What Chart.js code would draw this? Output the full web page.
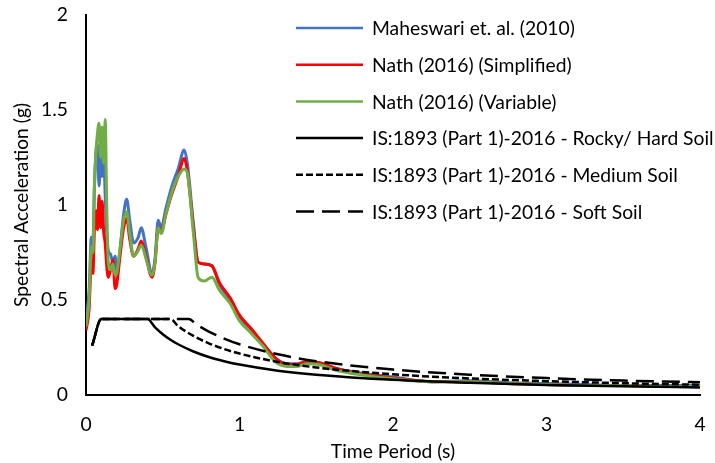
<!DOCTYPE html>
<html>
<head>
<meta charset="utf-8">
<script src="https://cdn.jsdelivr.net/npm/chart.js@4.4.0/dist/chart.umd.min.js"></script>
<style>
  html, body { margin: 0; padding: 0; background: #fff; }
  #wrap { width: 715px; height: 463px; }
</style>
</head>
<body>
<div id="wrap"><canvas id="chart" width="715" height="463"></canvas></div>
<script>
// Periode (s) untuk spektrum hasil analisis
const periods = [0.00, 0.02, 0.035, 0.045, 0.055, 0.065, 0.075, 0.085, 0.095, 0.105,
  0.115, 0.125, 0.135, 0.145, 0.16, 0.175, 0.19, 0.2, 0.22, 0.245,
  0.265, 0.285, 0.31, 0.34, 0.36, 0.39, 0.43, 0.45, 0.47, 0.49,
  0.52, 0.56, 0.6, 0.64, 0.66, 0.7, 0.73, 0.77, 0.82, 0.87,
  0.94, 1.0, 1.07, 1.15, 1.24, 1.31, 1.37, 1.44, 1.52, 1.63,
  1.8, 2.0, 2.25, 2.5, 2.75, 3.0, 3.25, 3.5, 3.75, 4.0];

const maheswari = [0.40, 0.55, 0.83, 0.80, 1.10, 1.28, 1.32, 1.10, 1.25, 1.15,
  1.30, 1.05, 0.85, 0.76, 0.74, 0.70, 0.73, 0.64, 0.75, 0.95,
  1.03, 0.92, 0.80, 0.83, 0.88, 0.78, 0.64, 0.72, 0.92, 0.88,
  0.98, 1.10, 1.19, 1.29, 1.22, 0.90, 0.70, 0.69, 0.68, 0.58,
  0.50, 0.41, 0.35, 0.27, 0.19, 0.165, 0.165, 0.175, 0.17, 0.14,
  0.115, 0.095, 0.07, 0.075, 0.065, 0.06, 0.055, 0.05, 0.05, 0.05];

const nathSimplified = [0.34, 0.45, 0.70, 0.64, 0.88, 0.97, 0.87, 1.05, 0.88, 1.02,
  0.86, 0.80, 0.68, 0.62, 0.66, 0.71, 0.56, 0.58, 0.72, 0.88,
  0.93, 0.82, 0.73, 0.77, 0.81, 0.73, 0.62, 0.70, 0.88, 0.86,
  0.95, 1.06, 1.15, 1.245, 1.18, 0.88, 0.70, 0.69, 0.68, 0.59,
  0.51, 0.42, 0.355, 0.275, 0.19, 0.16, 0.16, 0.175, 0.17, 0.14,
  0.11, 0.09, 0.07, 0.07, 0.06, 0.055, 0.05, 0.05, 0.045, 0.045];

const nathVariable = [0.36, 0.50, 0.78, 0.75, 1.10, 1.28, 1.38, 1.43, 1.25, 1.41,
  1.22, 1.45, 1.00, 0.70, 0.66, 0.69, 0.63, 0.64, 0.76, 0.92,
  0.965, 0.85, 0.73, 0.76, 0.79, 0.72, 0.63, 0.70, 0.88, 0.85,
  0.95, 1.07, 1.15, 1.19, 1.17, 0.85, 0.62, 0.60, 0.62, 0.55,
  0.48, 0.39, 0.33, 0.26, 0.17, 0.15, 0.15, 0.165, 0.16, 0.13,
  0.105, 0.085, 0.07, 0.07, 0.06, 0.055, 0.05, 0.05, 0.045, 0.045];

// Spektrum desain IS:1893
const rockyT = [0.04, 0.1, 0.4, 0.45, 0.5, 0.55, 0.6, 0.7, 0.8, 0.9, 1.0, 1.25, 1.5, 2.0, 2.5, 3.0, 3.5, 4.0];
const rockySa = [0.26, 0.40, 0.40, 0.356, 0.32, 0.291, 0.267, 0.229, 0.20, 0.178, 0.16, 0.128, 0.107, 0.08, 0.064, 0.053, 0.046, 0.04];

const mediumT = [0.04, 0.1, 0.55, 0.6, 0.7, 0.8, 0.9, 1.0, 1.25, 1.5, 2.0, 2.5, 3.0, 3.5, 4.0];
const mediumSa = [0.26, 0.40, 0.40, 0.363, 0.311, 0.272, 0.242, 0.218, 0.174, 0.145, 0.109, 0.087, 0.073, 0.062, 0.054];

const softT = [0.04, 0.1, 0.67, 0.72, 0.8, 0.9, 1.0, 1.25, 1.5, 2.0, 2.5, 3.0, 3.5, 4.0];
const softSa = [0.26, 0.40, 0.40, 0.371, 0.334, 0.297, 0.267, 0.214, 0.178, 0.134, 0.107, 0.089, 0.076, 0.067];

const xTicks = [0, 1, 2, 3, 4];
const yTicks = [0, 0.5, 1, 1.5, 2];

const FONT = "Lato, 'Open Sans', sans-serif";
const FONT_SIZE = 19.3;

function toPoints(xs, ys) {
  return xs.map((x, i) => ({ x: x, y: ys[i] }));
}

function series(label, xs, ys, color, dash, width, order) {
  return {
    label: label,
    data: toPoints(xs, ys),
    borderColor: color,
    backgroundColor: color,
    borderWidth: width,
    borderDash: dash,
    pointRadius: 0,
    fill: false,
    cubicInterpolationMode: "monotone",
    order: order,
  };
}

// Legenda digambar manual di pojok kanan atas area plot
const legendPlugin = {
  id: "cornerLegend",
  afterDraw(chart, args, opts) {
    const ctx = chart.ctx;
    ctx.save();
    ctx.font = opts.font;
    ctx.textBaseline = "middle";
    ctx.fillStyle = "#000";
    chart.data.datasets.forEach((ds, i) => {
      const y = opts.top + i * opts.gap;
      ctx.beginPath();
      ctx.strokeStyle = ds.borderColor;
      ctx.lineWidth = 2.5;
      ctx.setLineDash(ds.borderDash || []);
      ctx.moveTo(opts.left, y);
      ctx.lineTo(opts.left + opts.lineLen, y);
      ctx.stroke();
      ctx.setLineDash([]);
      ctx.fillText(ds.label, opts.left + opts.lineLen + 9, y + 1);
    });
    ctx.restore();
  },
};

const tickFont = { family: FONT, size: FONT_SIZE };

// Ukuran area sumbu dikunci supaya area plot tidak bergeser karena label
function fixPadding(s) {
  s.paddingTop = 0;
  s.paddingBottom = 0;
  s.paddingLeft = 0;
  s.paddingRight = 0;
}

const ctx = document.getElementById("chart").getContext("2d");
new Chart(ctx, {
  type: "line",
  data: {
    datasets: [
      series("Maheswari et. al. (2010)", periods, maheswari, "#4472C4", [], 3, 3),
      series("Nath (2016) (Simplified)", periods, nathSimplified, "#FF0000", [], 3, 2),
      series("Nath (2016) (Variable)", periods, nathVariable, "#70AD47", [], 3, 1),
      series("IS:1893 (Part 1)-2016 - Rocky/ Hard Soil", rockyT, rockySa, "#000000", [], 2.5, 0),
      series("IS:1893 (Part 1)-2016 - Medium Soil", mediumT, mediumSa, "#000000", [7, 3], 2.5, 0),
      series("IS:1893 (Part 1)-2016 - Soft Soil", softT, softSa, "#000000", [18, 8], 2.5, 0),
    ],
  },
  options: {
    responsive: false,
    animation: false,
    layout: { padding: { top: 15, right: 15, left: 0, bottom: 0 } },
    plugins: {
      legend: { display: false },
      tooltip: { enabled: false },
      cornerLegend: { left: 296, top: 28, gap: 36.7, lineLen: 67, font: FONT_SIZE + "px " + FONT },
    },
    scales: {
      x: {
        type: "linear",
        min: 0,
        max: 4,
        afterBuildTicks: (s) => { s.ticks = xTicks.map((v) => ({ value: v })); },
        afterFit: (s) => { s.height = 68; fixPadding(s); },
        grid: { display: false, drawTicks: false },
        border: { display: true, color: "#000", width: 2 },
        ticks: { color: "#000", padding: 18, font: tickFont, callback: (v) => String(v) },
        title: {
          display: true,
          text: "Time Period (s)",
          color: "#000",
          padding: { top: 0, bottom: 0 },
          font: tickFont,
        },
      },
      y: {
        type: "linear",
        min: 0,
        max: 2,
        afterBuildTicks: (s) => { s.ticks = yTicks.map((v) => ({ value: v })); },
        afterFit: (s) => { s.width = 86; fixPadding(s); },
        grid: { display: false, drawTicks: false },
        border: { display: true, color: "#000", width: 2 },
        ticks: { color: "#000", padding: 18, font: tickFont, callback: (v) => String(v) },
        title: {
          display: true,
          text: "Spectral Acceleration (g)",
          color: "#000",
          padding: { top: 10, bottom: 0 },
          font: tickFont,
        },
      },
    },
  },
  plugins: [legendPlugin],
});
</script>
</body>
</html>
